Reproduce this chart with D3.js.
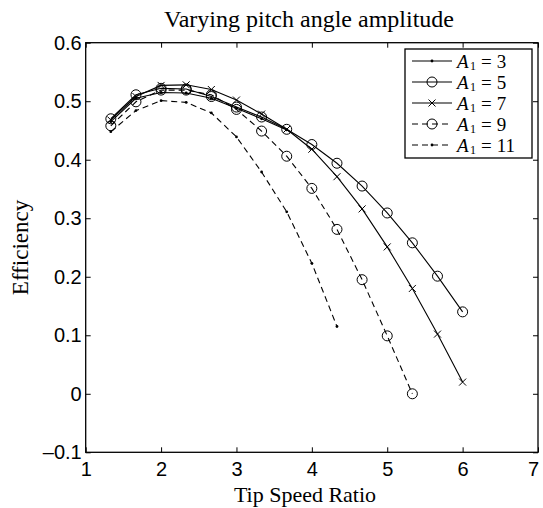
<!DOCTYPE html>
<html><head><meta charset="utf-8">
<script src="https://cdn.jsdelivr.net/npm/d3@7"></script>
<style>body{margin:0;background:#fff}svg{display:block}</style>
</head><body>
<script>
const tsr = [4/3, 5/3, 2, 7/3, 8/3, 3, 10/3, 11/3, 4, 13/3, 14/3, 5, 16/3, 17/3, 6];
const seriesNames = ["3", "5", "7", "9", "11"];
const a3 = [0.465, 0.505, 0.515, 0.514, 0.505, 0.488, 0.470, 0.451];
const a5 = [0.470, 0.511, 0.522, 0.521, 0.508, 0.490, 0.473, 0.452, 0.426, 0.394, 0.355, 0.309, 0.258, 0.201, 0.140];
const a7 = [0.468, 0.508, 0.527, 0.528, 0.520, 0.502, 0.478, 0.452, 0.418, 0.371, 0.316, 0.251, 0.180, 0.102, 0.020];
const a9 = [0.458, 0.499, 0.519, 0.519, 0.511, 0.486, 0.449, 0.406, 0.351, 0.281, 0.195, 0.099, 0.000];
const a11 = [0.448, 0.484, 0.501, 0.498, 0.480, 0.439, 0.379, 0.311, 0.223, 0.115];
const xTicks = [1, 2, 3, 4, 5, 6, 7];
const yTicks = [-0.1, 0, 0.1, 0.2, 0.3, 0.4, 0.5, 0.6];

const W = 543, H = 508;
const L = 85.7, R = 538, T = 42.7, B = 452.3;
const svg = d3.select("body").append("svg").attr("width", W).attr("height", H);
const x = d3.scaleLinear().domain([1, 7]).range([L, R]);
const y = d3.scaleLinear().domain([-0.1, 0.6]).range([B, T]);

const serif = "'Liberation Serif', 'Times New Roman', serif";
const sans = "'Liberation Sans', Arial, sans-serif";

const gx = svg.append("g").attr("transform", `translate(0,${B})`)
  .call(d3.axisBottom(x).tickValues(xTicks).tickSize(-5).tickPadding(0).tickFormat(d3.format("d")));
const gxt = svg.append("g").attr("transform", `translate(0,${T})`)
  .call(d3.axisTop(x).tickValues(xTicks).tickSize(-5).tickFormat(""));
const gy = svg.append("g").attr("transform", `translate(${L},0)`)
  .call(d3.axisLeft(y).tickValues(yTicks).tickSize(-5).tickPadding(4).tickFormat(d => d < 0 ? "\u20130.1" : (d === 0 ? "0" : d3.format(".1f")(d))));
const gyr = svg.append("g").attr("transform", `translate(${R},0)`)
  .call(d3.axisRight(y).tickValues(yTicks).tickSize(-5).tickFormat(""));
[gx, gxt, gy, gyr].forEach(g => {
  g.select(".domain").remove();
  g.selectAll("line").attr("stroke", "#000").attr("stroke-width", 1);
  g.selectAll("text").attr("fill", "#000").style("font-family", sans).style("font-size", "20px");
});
gx.selectAll("text").attr("y", 24).attr("dy", null)
  .attr("dx", d => d === 7 ? -5 : 0);
svg.append("rect").attr("x", L).attr("y", T).attr("width", R - L).attr("height", B - T)
  .attr("fill", "none").attr("stroke", "#000").attr("stroke-width", 1.3);

const data = [a3, a5, a7, a9, a11];
const dashes = [null, null, null, "6,4", "6,4"];
const markers = ["dot", "circle", "cross", "circle", "dot"];
const line = d3.line().x(d => x(d[0])).y(d => y(d[1]));
const plot = svg.append("g");
function drawMarker(g, type, cx, cy) {
  if (type === "dot") g.append("circle").attr("cx", cx).attr("cy", cy).attr("r", 1.4).attr("fill", "#000");
  else if (type === "circle") g.append("circle").attr("cx", cx).attr("cy", cy).attr("r", 5).attr("fill", "none").attr("stroke", "#000").attr("stroke-width", 1);
  else if (type === "cross") {
    const s = 3.5;
    g.append("path").attr("d", `M${cx - s},${cy - s}L${cx + s},${cy + s}M${cx - s},${cy + s}L${cx + s},${cy - s}`).attr("stroke", "#000").attr("stroke-width", 1);
  }
}
data.forEach((vals, i) => {
  const pts = vals.map((v, j) => [tsr[j], v]);
  plot.append("path").attr("d", line(pts)).attr("fill", "none").attr("stroke", "#000")
    .attr("stroke-width", 1.1).attr("stroke-dasharray", dashes[i]);
  const mg = plot.append("g");
  pts.forEach(p => drawMarker(mg, markers[i], x(p[0]), y(p[1])));
});

// legend
const lg = svg.append("g");
lg.append("rect").attr("x", 405).attr("y", 49).attr("width", 127).attr("height", 109)
  .attr("fill", "#fff").attr("stroke", "#000").attr("stroke-width", 1.3);
seriesNames.forEach((n, i) => {
  const yy = 61 + i * 21;
  lg.append("line").attr("x1", 412).attr("x2", 452).attr("y1", yy).attr("y2", yy)
    .attr("stroke", "#000").attr("stroke-width", 1.1).attr("stroke-dasharray", dashes[i]);
  drawMarker(lg, markers[i], 432, yy);
  let cx = 457;
  const parts = [
    {s: "A", size: 19, italic: true, dy: 0, gap: 1.5},
    {s: "1", size: 12, italic: false, dy: 2.5, gap: 5},
    {s: "=", size: 19, italic: false, dy: 0, gap: 5},
    {s: n, size: 19, italic: false, dy: 0, gap: 0}
  ];
  parts.forEach(p => {
    const t = lg.append("text").attr("x", cx).attr("y", yy + 6.5 + p.dy)
      .style("font-family", serif).style("font-size", p.size + "px")
      .style("font-style", p.italic ? "italic" : "normal").text(p.s);
    cx += t.node().getComputedTextLength() + p.gap;
  });
});

svg.append("text").attr("x", 309).attr("y", 27).attr("text-anchor", "middle")
  .style("font-family", serif).style("font-size", "24px").text("Varying pitch angle amplitude");
svg.append("text").attr("x", 305).attr("y", 502).attr("text-anchor", "middle")
  .style("font-family", serif).style("font-size", "22px").text("Tip Speed Ratio");
svg.append("text").attr("transform", `translate(28,${(T + B) / 2}) rotate(-90)`).attr("text-anchor", "middle")
  .style("font-family", serif).style("font-size", "23px").text("Efficiency");
</script>
</body></html>
